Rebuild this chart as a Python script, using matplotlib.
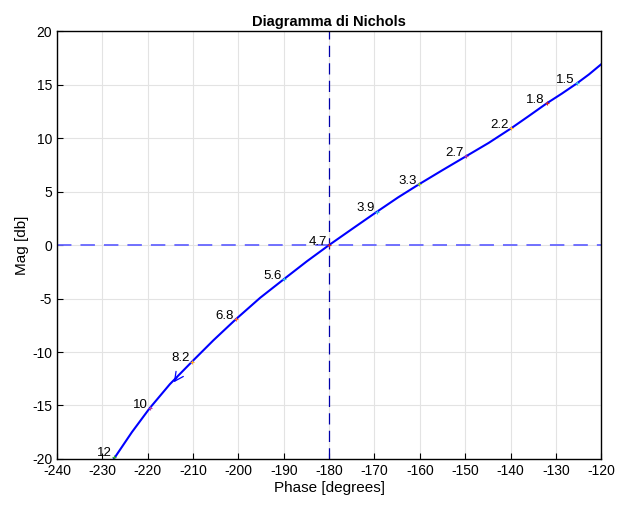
import numpy as np
import matplotlib
matplotlib.use("Agg")
import matplotlib.pyplot as plt

plt.rcParams['font.family'] = ['Liberation Sans', 'DejaVu Sans']
plt.rcParams['axes.unicode_minus'] = False

# curve (phase in degrees, magnitude in dB)
phase = [-227.8, -223.5, -219.6, -215.1, -210.3, -205.5, -200.6, -195.2,
         -190.0, -184.9, -180.0, -174.6, -169.5, -164.8, -160.1, -155.0,
         -149.8, -144.8, -139.9, -136.0, -132.0, -128.7, -125.4, -122.7,
         -120.0]
mag = [-20.2, -17.5, -15.27, -13.0, -10.93, -8.9, -6.95, -4.93,
       -3.2, -1.52, 0.0, 1.6, 3.1, 4.45, 5.7, 7.0,
       8.3, 9.55, 10.9, 12.05, 13.25, 14.15, 15.1, 15.95,
       16.9]

# frequency labels along the curve
freq_labels = ["12", "10", "8.2", "6.8", "5.6", "4.7", "3.9",
               "3.3", "2.7", "2.2", "1.8", "1.5"]
freq_phase = [-227.4, -219.6, -210.3, -200.6, -190.0, -180.0, -169.5,
              -160.1, -149.8, -139.9, -132.0, -125.4]
freq_mag = [-19.8, -15.27, -10.93, -6.95, -3.2, 0.0, 3.1,
            5.7, 8.3, 10.9, 13.25, 15.1]
marker_colors = ["#33aa33", "#aa33aa", "#ffaa22", "#ff6633", "#33bbdd", "#cc2222",
                 "#33bbdd", "#88cc33", "#aa33aa", "#ffaa22", "#cc2222", "#33bbdd"]

xticks = list(range(-240, -119, 10))
yticks = list(range(-20, 21, 5))

fig = plt.figure(figsize=(6.17, 5.07), dpi=100)
ax = fig.add_axes([0.0924, 0.0947, 0.882, 0.844])

ax.grid(True, color="#e3e3e3", linewidth=0.8)
ax.set_axisbelow(True)

ax.axhline(0, color="#6666ff", linestyle=(0, (8, 5)), linewidth=1.3)
ax.axvline(-180, color="#0000aa", linestyle=(0, (9, 5)), linewidth=0.9)

ax.plot(phase, mag, color="blue", linewidth=1.5)

for lab, x, y, c in zip(freq_labels, freq_phase, freq_mag, marker_colors):
    ax.plot(x, y, marker="+", color=c, markersize=3, markeredgewidth=0.8)
    ax.annotate(lab, (x, y), xytext=(-1.5, 2.5), textcoords="offset points",
                ha="right", va="center", fontsize=9.5)

# direction arrow (head only, sitting on the curve)
ax.annotate("", xy=(-214.6, -13.05), xytext=(-213.2, -12.2),
            arrowprops=dict(arrowstyle="->", color="blue", lw=0.9,
                            mutation_scale=16))

ax.set_xlim(-240, -120)
ax.set_ylim(-20, 20)
ax.set_xticks(xticks)
ax.set_yticks(yticks)
ax.tick_params(direction="in", length=4, labelsize=10, top=False, right=False)
for s in ax.spines.values():
    s.set_linewidth(1.0)

ax.set_title("Diagramma di Nichols", fontsize=10.5, fontweight="bold", pad=4)
ax.set_xlabel("Phase [degrees]", fontsize=11, labelpad=2)
ax.set_ylabel("Mag [db]", fontsize=11, labelpad=2)

fig.savefig("out.png", dpi=100)
